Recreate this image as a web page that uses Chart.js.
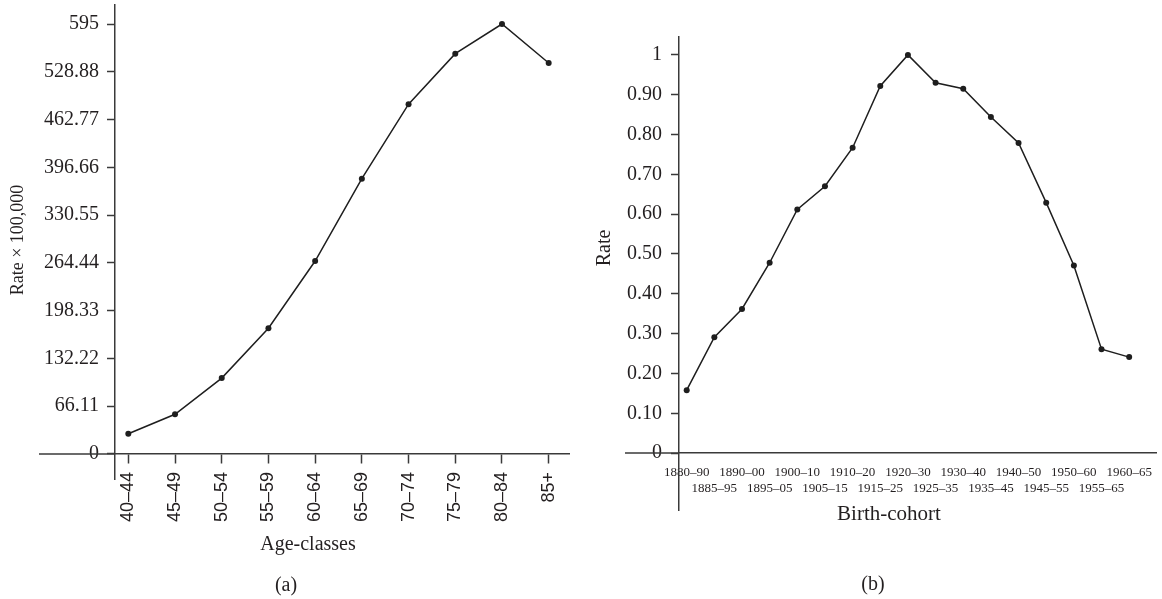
<!DOCTYPE html>
<html>
<head>
<meta charset="utf-8">
<script src="https://cdn.jsdelivr.net/npm/chart.js@4.4.1/dist/chart.umd.min.js"></script>
<style>
  body { margin: 0; background: #fff; }
  #wrap { position: relative; width: 1162px; height: 599px; }
  canvas { position: absolute; left: 0; top: 0; }
</style>
</head>
<body>
<div id="wrap">
  <canvas id="chart-a" width="1162" height="599"></canvas>
  <canvas id="chart-b" width="1162" height="599"></canvas>
</div>
<script>
// (a) rate by age class
const ageClasses = ['40–44', '45–49', '50–54', '55–59', '60–64', '65–69', '70–74', '75–79', '80–84', '85+'];
const ageRates = [28, 55, 105, 174, 267, 381, 484, 554, 595, 541];
const ageTicks = [0, 66.11, 132.22, 198.33, 264.44, 330.55, 396.66, 462.77, 528.88, 595];

// (b) rate by birth cohort
const cohorts = ['1880–90', '1885–95', '1890–00', '1895–05', '1900–10', '1905–15', '1910–20', '1915–25',
  '1920–30', '1925–35', '1930–40', '1935–45', '1940–50', '1945–55', '1950–60', '1955–65', '1960–65'];
const cohortRates = [0.158, 0.291, 0.362, 0.478, 0.612, 0.670, 0.767, 0.922, 1.0, 0.930, 0.915, 0.844, 0.779, 0.629, 0.471, 0.261, 0.241];
const rateTicks = [0, 0.1, 0.2, 0.3, 0.4, 0.5, 0.6, 0.7, 0.8, 0.9, 1];
const rateTickLabels = ['0', '0.10', '0.20', '0.30', '0.40', '0.50', '0.60', '0.70', '0.80', '0.90', '1'];

const ink = '#231f20';
const axisColor = '#3a3a3a';
const serif = 'Liberation Serif';

// titles drawn onto the canvas, plus the bit of the x axis that runs left of the y axis
function decorations(items) {
    return {
        id: 'decorations',
        afterDraw(chart) {
            const ctx = chart.ctx;
            const xs = chart.scales.x, ys = chart.scales.y;
            const y0 = ys.getPixelForValue(0);
            ctx.save();
            ctx.strokeStyle = axisColor;
            ctx.lineWidth = 1.5;
            ctx.beginPath();
            ctx.moveTo(ys.left, y0);
            ctx.lineTo(chart.chartArea.left, y0);
            ctx.stroke();

            ctx.fillStyle = ink;
            ctx.textBaseline = 'alphabetic';
            ctx.textAlign = 'center';
            items.forEach(it => {
                ctx.save();
                ctx.font = it.size + 'px "' + serif + '"';
                ctx.translate(it.x, it.y);
                if (it.rotate) ctx.rotate(-Math.PI / 2);
                ctx.fillText(it.text, 0, 0);
                ctx.restore();
            });
            ctx.restore();
        }
    };
}

function noPad(scale) {
    scale.paddingTop = 0;
    scale.paddingBottom = 0;
    scale.paddingLeft = 0;
    scale.paddingRight = 0;
}

function fixWidth(w) {
    return scale => { noPad(scale); scale.width = w; };
}

function lineDataset(values) {
    return {
        data: values.map((v, i) => ({ x: i, y: v })),
        borderColor: '#1e1e1e',
        backgroundColor: '#1e1e1e',
        borderWidth: 1.5,
        pointRadius: 3,
        pointBorderWidth: 0,
        pointBackgroundColor: '#1e1e1e',
        tension: 0,
        clip: false
    };
}

new Chart(document.getElementById('chart-a'), {
    type: 'line',
    data: { datasets: [lineDataset(ageRates)] },
    options: {
        responsive: false,
        animation: false,
        devicePixelRatio: 1,
        layout: { padding: { left: 39, right: 593, top: 5, bottom: 120 } },
        plugins: { legend: { display: false }, tooltip: { enabled: false } },
        scales: {
            x: {
                type: 'linear',
                bounds: 'data',
                min: -0.285,
                max: 9.435,
                position: { y: 0 },
                afterBuildTicks: s => { s.ticks = ageClasses.map((_, i) => ({ value: i })); },
                afterFit: noPad,
                ticks: {
                    callback: (v, i) => ageClasses[i],
                    autoSkip: false,
                    minRotation: 90,
                    maxRotation: 90,
                    padding: 9,
                    color: ink,
                    font: { family: 'Liberation Sans', size: 18 }
                },
                grid: { drawOnChartArea: false, tickLength: 9, tickWidth: 1.5, tickColor: axisColor },
                border: { color: axisColor, width: 1.5 }
            },
            y: {
                type: 'linear',
                bounds: 'data',
                min: -34.6,
                max: 621.3,
                position: 'left',
                afterBuildTicks: s => { s.ticks = ageTicks.map(v => ({ value: v })); },
                afterFit: fixWidth(76),
                ticks: {
                    callback: (v, i) => String(ageTicks[i]),
                    autoSkip: false,
                    padding: 8,
                    color: ink,
                    font: { family: serif, size: 20 }
                },
                grid: { drawOnChartArea: false, tickLength: 8, tickWidth: 1.5, tickColor: axisColor },
                border: { color: axisColor, width: 1.5 }
            }
        }
    },
    plugins: [decorations([
        { text: 'Rate × 100,000', x: 23, y: 240, size: 18, rotate: true },
        { text: 'Age-classes', x: 308, y: 550, size: 20 },
        { text: '(a)', x: 286, y: 591, size: 20 }
    ])]
});

new Chart(document.getElementById('chart-b'), {
    type: 'line',
    data: { datasets: [lineDataset(cohortRates)] },
    options: {
        responsive: false,
        animation: false,
        devicePixelRatio: 1,
        layout: { padding: { left: 625, right: 6, top: 37, bottom: 89 } },
        plugins: { legend: { display: false }, tooltip: { enabled: false } },
        scales: {
            x: {
                type: 'linear',
                bounds: 'data',
                min: -0.278,
                max: 16.97,
                position: { y: 0 },
                afterBuildTicks: s => { s.ticks = cohorts.map((_, i) => ({ value: i })); },
                afterFit: noPad,
                ticks: {
                    // alternate labels drop to a second row
                    callback: (v, i) => (i % 2 === 0 ? cohorts[i] : ['', cohorts[i]]),
                    autoSkip: false,
                    minRotation: 0,
                    maxRotation: 0,
                    padding: 12,
                    color: ink,
                    font: { family: serif, size: 13, lineHeight: 1.2 }
                },
                grid: { display: false, drawTicks: false },
                border: { color: axisColor, width: 1.5 }
            },
            y: {
                type: 'linear',
                bounds: 'data',
                min: -0.143,
                max: 1.045,
                position: 'left',
                afterBuildTicks: s => { s.ticks = rateTicks.map(v => ({ value: v })); },
                afterFit: fixWidth(54),
                ticks: {
                    callback: (v, i) => rateTickLabels[i],
                    autoSkip: false,
                    padding: 9,
                    color: ink,
                    font: { family: serif, size: 20 }
                },
                grid: { drawOnChartArea: false, tickLength: 8, tickWidth: 1.5, tickColor: axisColor },
                border: { color: axisColor, width: 1.5 }
            }
        }
    },
    plugins: [decorations([
        { text: 'Rate', x: 610, y: 248, size: 20, rotate: true },
        { text: 'Birth-cohort', x: 889, y: 520, size: 21 },
        { text: '(b)', x: 873, y: 590, size: 20 }
    ])]
});
</script>
</body>
</html>
